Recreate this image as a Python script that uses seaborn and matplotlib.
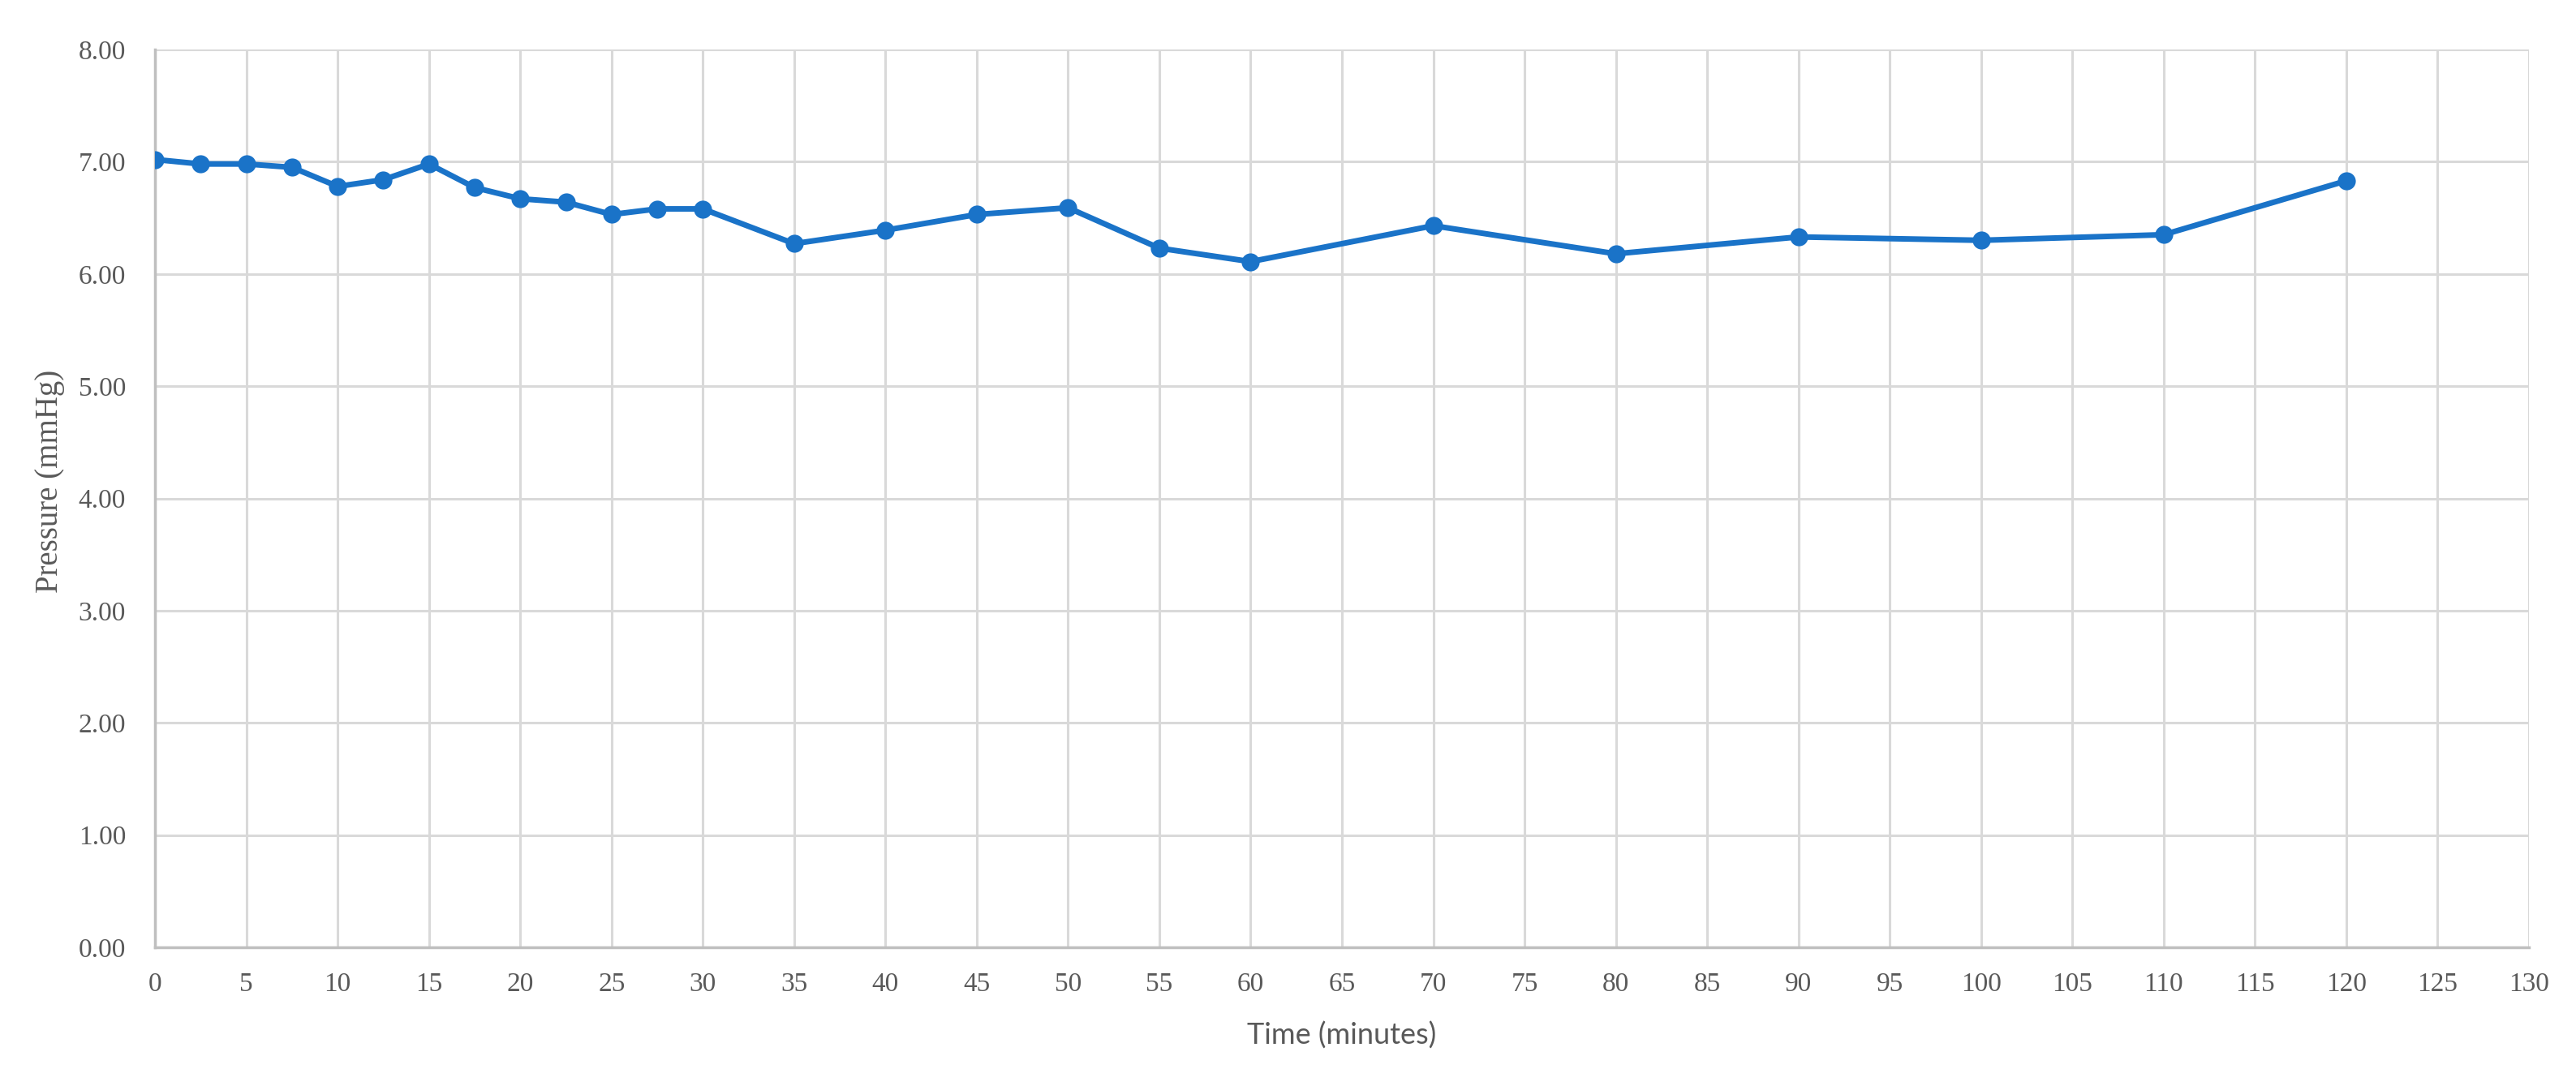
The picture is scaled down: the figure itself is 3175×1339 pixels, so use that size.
import matplotlib
matplotlib.use("Agg")
import matplotlib.pyplot as plt
import seaborn as sns
import pandas as pd
from matplotlib.ticker import FormatStrFormatter

time_min = [0, 2.5, 5, 7.5, 10, 12.5, 15, 17.5, 20, 22.5, 25, 27.5, 30,
            35, 40, 45, 50, 55, 60, 70, 80, 90, 100, 110, 120]
pressure = [7.02, 6.98, 6.98, 6.95, 6.78, 6.84, 6.98, 6.77, 6.67, 6.64, 6.53, 6.58, 6.58,
            6.27, 6.39, 6.53, 6.59, 6.23, 6.11, 6.43, 6.18, 6.33, 6.30, 6.35, 6.83]
x_ticks = list(range(0, 131, 5))
y_ticks = [0, 1, 2, 3, 4, 5, 6, 7, 8]

df = pd.DataFrame({"Time": time_min, "Pressure": pressure})

sns.set_theme(style="white")
plt.rcParams['font.family'] = ['Liberation Serif', 'DejaVu Sans']

fig = plt.figure(figsize=(31.75, 13.39), dpi=100)
ax = fig.add_axes([0.0602, 0.1277, 0.9215, 0.8267])

line_color = "#1a73c8"
sns.lineplot(data=df, x="Time", y="Pressure", ax=ax, color=line_color,
             linewidth=5, marker="o", markersize=16, markeredgewidth=0,
             zorder=3)

ax.set_xlim(0, 130)
ax.set_ylim(0, 8)
ax.set_xticks(x_ticks)
ax.set_yticks(y_ticks)
ax.yaxis.set_major_formatter(FormatStrFormatter('%.2f'))
ax.grid(True, color="#d9d9d9", linewidth=2.2, zorder=0)
ax.set_axisbelow(True)

for s in ["top", "right"]:
    ax.spines[s].set_visible(False)
for s in ["left", "bottom"]:
    ax.spines[s].set_color("#bfbfbf")
    ax.spines[s].set_linewidth(2.5)
    ax.spines[s].set_zorder(1)

ax.tick_params(axis="both", which="both", length=0, labelsize=24,
               labelcolor="#595959")
ax.tick_params(axis="x", pad=22)
ax.tick_params(axis="y", pad=26)

ax.set_ylabel("Pressure (mmHg)", fontsize=28, color="#595959",
              family=['Liberation Serif', 'DejaVu Sans'])
ax.yaxis.set_label_coords(-0.038, 0.519)
ax.set_xlabel("Time (minutes)", fontsize=26, color="#595959", labelpad=22,
              family=['Lato', 'DejaVu Sans'])

fig.savefig("out.png", dpi=100, facecolor="white")
